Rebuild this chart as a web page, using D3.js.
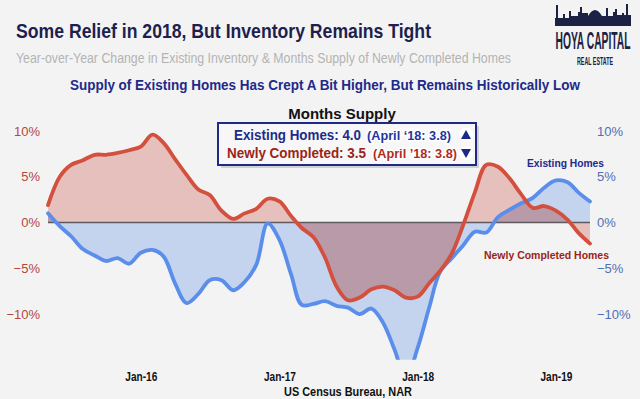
<!DOCTYPE html>
<html lang="en">
<head>
<meta charset="UTF-8">
<title>Some Relief in 2018, But Inventory Remains Tight</title>
<script src="https://d3js.org/d3.v7.min.js"></script>
<style>
  body { margin: 0; background: #f3f3f3; }
  svg { display: block; font-family: "Liberation Sans", Arial, sans-serif; }
</style>
</head>
<body>
<div id="chart"></div>
<script>

// Monthly YoY change (%), May 2015 .. April 2019
const startMonth = "2015-05";
const existingHomes = [
  1.0, -0.4, -1.5, -2.9, -3.6, -4.2, -3.9, -4.5, -3.3, -3.0,
  -3.7, -6.7, -8.8, -7.8, -6.3, -6.3, -7.4, -6.5, -4.6, -0.1,
  -1.9, -5.7, -9.0, -8.9, -8.6, -9.1, -9.3, -10.0, -9.4, -10.9,
  -13.9, -17.0, -13.7, -9.2, -5.4, -3.9, -2.5, -1.0, -1.1, 0.6,
  1.4, 2.1, 2.7, 3.8, 4.6, 4.4, 3.3, 2.3
];
const newlyCompleted = [
  1.9, 5.0, 6.3, 6.8, 7.4, 7.4, 7.6, 7.9, 8.3, 9.6,
  8.7, 6.9, 5.2, 3.6, 3.0, 1.3, 0.4, 1.0, 1.5, 2.6,
  2.3, 0.7, -0.6, -1.6, -3.8, -7.0, -8.5, -8.2, -7.3, -7.0,
  -7.4, -8.2, -8.1, -6.6, -5.3, -3.4, -0.3, 3.3, 6.3, 6.1,
  4.8, 3.1, 1.6, 1.8, 1.3, 0.3, -1.1, -2.3
];
const xTickLabels = ["Jan-16", "Jan-17", "Jan-18", "Jan-19"];
const yTicks = [-10, -5, 0, 5, 10];

const monthsSupply = [
  {label: "Existing Homes: 4.0", prior: "(April \u201818: 3.8)", dir: "up"},
  {label: "Newly Completed: 3.5", prior: "(April \u201918: 3.8)", dir: "down"}
];

const width = 640, height = 399;
const navy = "#1d2a8a", darkRed = "#9a2419";

const svg = d3.select("#chart").append("svg")
  .attr("width", width)
  .attr("height", height);

svg.append("rect").attr("width", width).attr("height", height).attr("fill", "#f3f3f3");

const start = d3.timeParse("%Y-%m")(startMonth);
const dates = existingHomes.map((_, i) => d3.timeMonth.offset(start, i));

const x = d3.scaleTime()
  .domain([dates[0], dates[dates.length - 1]])
  .range([48, 590]);
const y = d3.scaleLinear()
  .domain([-15, 10])
  .range([359.8, 131]);

const defs = svg.append("defs");
defs.append("clipPath").attr("id", "plot-clip")
  .append("rect").attr("x", 40).attr("y", 100).attr("width", 560).attr("height", 259.8);

const f = d3.format("d");
const area = vals => d3.area()
  .x((d, i) => x(dates[i]))
  .y0(y(0))
  .y1(d => y(d))
  .curve(d3.curveCatmullRom.alpha(0.5))(vals);
const line = vals => d3.line()
  .x((d, i) => x(dates[i]))
  .y(d => y(d))
  .curve(d3.curveCatmullRom.alpha(0.5))(vals);

defs.append("clipPath").attr("id", "blue-area")
  .append("path").attr("d", area(existingHomes));

const plot = svg.append("g").attr("clip-path", "url(#plot-clip)");

plot.append("path").attr("d", area(existingHomes)).attr("fill", "#c4d4ef");
plot.append("path").attr("d", area(newlyCompleted)).attr("fill", "#e6c0bc");
plot.append("path").attr("d", area(newlyCompleted)).attr("fill", "#b99aa9")
  .attr("clip-path", "url(#blue-area)");

plot.append("line")
  .attr("x1", x(dates[0])).attr("x2", x(dates[dates.length - 1]))
  .attr("y1", y(0)).attr("y2", y(0))
  .attr("stroke", "#5e5a60").attr("stroke-width", 1.3);

plot.append("path").attr("d", line(existingHomes))
  .attr("fill", "none").attr("stroke", "#5b8eea").attr("stroke-width", 3.8)
  .attr("stroke-linejoin", "round").attr("stroke-linecap", "round");
plot.append("path").attr("d", line(newlyCompleted))
  .attr("fill", "none").attr("stroke", "#d4503e").attr("stroke-width", 3.8)
  .attr("stroke-linejoin", "round").attr("stroke-linecap", "round");

// left and right axes (labels only)
const yLeft = d3.axisLeft(y).tickValues(yTicks).tickSize(0).tickPadding(0).tickFormat(d => f(d) + "%");
const gl = svg.append("g").attr("transform", "translate(40,0)").call(yLeft);
gl.select(".domain").remove();
gl.selectAll("text").attr("fill", "#b4463d").attr("font-size", 13)
  .attr("font-family", "'Liberation Sans', Arial, sans-serif");

const yRight = d3.axisRight(y).tickValues(yTicks).tickSize(0).tickPadding(0).tickFormat(d => f(d) + "%");
const gr = svg.append("g").attr("transform", "translate(597,0)").call(yRight);
gr.select(".domain").remove();
gr.selectAll("text").attr("fill", "#4f6fb4").attr("font-size", 13)
  .attr("font-family", "'Liberation Sans', Arial, sans-serif");

// x axis
const parseTick = d3.timeParse("%b-%y");
const xAxis = d3.axisBottom(x)
  .tickValues(xTickLabels.map(parseTick))
  .tickSize(0).tickPadding(0)
  .tickFormat(d3.timeFormat("%b-%y"));
const gx = svg.append("g").attr("transform", "translate(0,372)").call(xAxis);
gx.select(".domain").remove();
gx.selectAll("text").attr("fill", "#111").attr("font-size", 12).attr("font-weight", "bold")
  .attr("font-family", "'Liberation Sans Narrow', 'Liberation Sans', Arial, sans-serif")
  .attr("textLength", 32).attr("lengthAdjust", "spacingAndGlyphs");

svg.append("text").attr("x", 348).attr("y", 396).attr("text-anchor", "middle")
  .attr("font-size", 12).attr("font-weight", "bold").attr("fill", "#111")
  .attr("textLength", 128).attr("lengthAdjust", "spacingAndGlyphs")
  .text("US Census Bureau, NAR");

// titles
svg.append("text").attr("x", 16).attr("y", 38)
  .attr("font-size", 21).attr("font-weight", "bold").attr("fill", "#1e1f4e")
  .attr("textLength", 415).attr("lengthAdjust", "spacingAndGlyphs")
  .text("Some Relief in 2018, But Inventory Remains Tight");
svg.append("text").attr("x", 16).attr("y", 63)
  .attr("font-size", 14).attr("fill", "#b3b3b3")
  .attr("textLength", 495).attr("lengthAdjust", "spacingAndGlyphs")
  .text("Year-over-Year Change in Existing Inventory & Months Supply of Newly Completed Homes");
svg.append("text").attr("x", 70).attr("y", 90)
  .attr("font-size", 14).attr("font-weight", "bold").attr("fill", navy)
  .attr("textLength", 510).attr("lengthAdjust", "spacingAndGlyphs")
  .text("Supply of Existing Homes Has Crept A Bit Higher, But Remains Historically Low");

// logo
const logo = svg.append("g").attr("fill", "#1c2244");
logo.append("path").attr("d",
  "M555,26 V18 H556 V5 H558 V18 H563 V14 H565 V18 H569 V11 H571 V16 H578 V12 H580 V7 H582 V13 H588 V16 " +
  "Q595,4 602,16 H606 V8 H608 V16 H613 V12 H615 V9 H617 V15 H622 V13 H624 V15 H626 V4 H628 V15 H631 V26 Z");
logo.append("text").attr("x", 593).attr("y", 49).attr("text-anchor", "middle")
  .attr("font-size", 16).attr("font-weight", "bold")
  .attr("font-family", "'Liberation Sans Narrow', 'Liberation Sans', Arial, sans-serif")
  .attr("textLength", 75).attr("lengthAdjust", "spacingAndGlyphs")
  .attr("transform", "translate(593,49) scale(1,1.45) translate(-593,-49)")
  .text("HOYA CAPITAL");
logo.append("text").attr("x", 595).attr("y", 65).attr("text-anchor", "middle")
  .attr("font-size", 7).attr("font-weight", "bold")
  .attr("font-family", "'Liberation Sans Narrow', 'Liberation Sans', Arial, sans-serif")
  .attr("textLength", 36).attr("lengthAdjust", "spacingAndGlyphs")
  .attr("transform", "translate(595,65) scale(1,1.5) translate(-595,-65)")
  .text("REAL ESTATE");

// months supply box
svg.append("text").attr("x", 342).attr("y", 119).attr("text-anchor", "middle")
  .attr("font-size", 15).attr("font-weight", "bold").attr("fill", "#111")
  .text("Months Supply");

svg.append("rect").attr("x", 221).attr("y", 126).attr("width", 258).attr("height", 42)
  .attr("fill", "#bbb").attr("opacity", 0.6);
svg.append("rect").attr("x", 218).attr("y", 123).attr("width", 258).attr("height", 42)
  .attr("fill", "#f7f7f7").attr("stroke", navy).attr("stroke-width", 2);

const rows = svg.append("g").selectAll("g").data(monthsSupply).join("g")
  .attr("transform", (d, i) => `translate(0,${140 + i * 18})`);
rows.append("text").attr("x", (d, i) => i ? 227 : 234)
  .attr("font-size", 14).attr("font-weight", "bold")
  .attr("fill", (d, i) => i ? darkRed : navy)
  .attr("textLength", (d, i) => i ? 139 : 127).attr("lengthAdjust", "spacingAndGlyphs")
  .text(d => d.label);
rows.append("text").attr("x", (d, i) => i ? 373 : 367)
  .attr("font-size", 12.5).attr("font-weight", "bold")
  .attr("fill", (d, i) => i ? "#b02a1f" : "#2236a0")
  .attr("stroke", "#fff").attr("stroke-width", 3).attr("paint-order", "stroke")
  .attr("textLength", 84).attr("lengthAdjust", "spacingAndGlyphs")
  .text(d => d.prior);
rows.append("circle").attr("cx", 466).attr("cy", -5).attr("r", 7).attr("fill", "#fff");
rows.append("path")
  .attr("d", d => d.dir === "up" ? "M461,-1 L466,-10 L471,-1 Z" : "M461,-9 L466,0 L471,-9 Z")
  .attr("fill", navy);

// series labels
svg.append("text").attr("x", 527).attr("y", 167)
  .attr("font-size", 11.5).attr("font-weight", "bold").attr("fill", navy)
  .attr("textLength", 77).attr("lengthAdjust", "spacingAndGlyphs")
  .text("Existing Homes");
svg.append("text").attr("x", 484).attr("y", 259)
  .attr("font-size", 11.5).attr("font-weight", "bold").attr("fill", darkRed)
  .attr("textLength", 125).attr("lengthAdjust", "spacingAndGlyphs")
  .text("Newly Completed Homes");

</script>
</body>
</html>
